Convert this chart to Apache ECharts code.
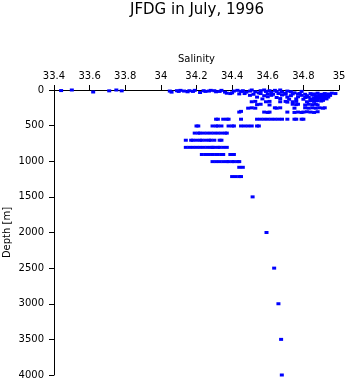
<!DOCTYPE html>
<html>
<head>
<meta charset="utf-8">
<script src="https://cdn.jsdelivr.net/npm/echarts@6/dist/echarts.min.js"></script>
<style>
  html, body { margin: 0; padding: 0; background: #fff; }
  #chart { width: 348px; height: 384px; }
</style>
</head>
<body>
<div id="chart"></div>
<script>
// Salinity [PSU] vs depth [m] samples, grouped by layer: [salinity, depth]
const surfaceLayer = [
  [33.44, 8], [33.50, 0], [33.62, 28], [33.71, 12], [33.75, 0], [33.78, 12],
  [34.05, 15], [34.06, 30], [34.09, 10], [34.10, 20], [34.11, 5], [34.13, 15],
  [34.15, 25], [34.16, 10], [34.18, 20], [34.19, 5], [34.22, 35], [34.24, 10],
  [34.25, 20], [34.27, 15], [34.28, 5], [34.30, 10], [34.31, 25], [34.33, 20],
  [34.34, 5], [34.36, 30], [34.37, 45], [34.39, 50], [34.40, 40], [34.41, 15],
  [34.43, 5], [34.45, 20], [34.46, 10], [34.48, 30], [34.50, 15], [34.51, 0],
  [34.53, 25], [34.55, 40], [34.56, 10], [34.58, 0], [34.59, 20], [34.61, 10],
  [34.62, 35], [34.64, 5], [34.65, 20], [34.67, 0], [34.68, 30], [34.70, 45],
  [34.71, 15], [34.73, 25], [34.75, 40], [34.77, 55], [34.79, 20]
];

const upperLayer = [
  [34.44, 55], [34.47, 50], [34.52, 60], [34.56, 50], [34.60, 55], [34.63, 60],
  [34.66, 50], [34.70, 60], [34.74, 55], [34.78, 50], [34.81, 60], [34.84, 50],
  [34.86, 55], [34.88, 45], [34.90, 60], [34.92, 50], [34.94, 55], [34.96, 45],
  [34.98, 50],
  [34.50, 75], [34.58, 80], [34.62, 75], [34.68, 70], [34.73, 80], [34.79, 75],
  [34.82, 80], [34.85, 70], [34.87, 80], [34.89, 75], [34.90, 85], [34.92, 70],
  [34.93, 80], [34.95, 75],
  [34.54, 100], [34.60, 95], [34.65, 105], [34.71, 100], [34.77, 95], [34.81, 105],
  [34.83, 100], [34.86, 110], [34.88, 95], [34.89, 105], [34.91, 100], [34.92, 110],
  [34.94, 100],
  [34.57, 125], [34.67, 120], [34.72, 130], [34.76, 125], [34.80, 130], [34.84, 125],
  [34.86, 130], [34.88, 120], [34.90, 125], [34.91, 135], [34.93, 125],
  [34.51, 165], [34.53, 160], [34.59, 165], [34.61, 160], [34.67, 165], [34.70, 160],
  [34.71, 170], [34.74, 165], [34.76, 160], [34.82, 165], [34.84, 150], [34.86, 160],
  [34.88, 150], [34.90, 155], [34.91, 145],
  [34.54, 205], [34.56, 200], [34.61, 210], [34.74, 200], [34.76, 205], [34.77, 200],
  [34.81, 210], [34.83, 200], [34.85, 205], [34.87, 200], [34.88, 210],
  [34.49, 255], [34.51, 250], [34.53, 255], [34.64, 250], [34.65, 255], [34.67, 250],
  [34.75, 255], [34.81, 250], [34.83, 255], [34.85, 250], [34.87, 255], [34.89, 250],
  [34.91, 255], [34.92, 250],
  [34.44, 310], [34.45, 300], [34.58, 310], [34.60, 315], [34.61, 310], [34.71, 310],
  [34.75, 315], [34.77, 310], [34.79, 315], [34.80, 310], [34.82, 305], [34.84, 310],
  [34.86, 315], [34.88, 305]
];

const intermediateLayer = [
  [34.31, 410], [34.32, 410], [34.35, 410], [34.37, 410], [34.38, 410], [34.45, 410],
  [34.54, 410], [34.56, 410], [34.58, 410], [34.60, 410], [34.62, 410], [34.64, 410],
  [34.66, 410], [34.68, 410], [34.71, 410], [34.75, 410], [34.76, 410],
  [34.79, 410], [34.80, 410],
  [34.20, 505], [34.21, 505], [34.29, 505], [34.31, 505], [34.32, 505], [34.34, 505],
  [34.38, 505], [34.40, 505], [34.41, 505], [34.45, 505], [34.47, 505], [34.49, 505],
  [34.51, 505], [34.54, 505], [34.55, 505],
  [34.19, 605], [34.21, 605], [34.22, 605], [34.24, 605], [34.26, 605], [34.28, 605],
  [34.30, 605], [34.32, 605], [34.34, 605], [34.36, 605], [34.37, 605],
  [34.14, 705], [34.17, 705], [34.18, 705], [34.20, 705], [34.22, 705], [34.23, 705],
  [34.25, 705], [34.27, 705], [34.28, 705], [34.30, 705], [34.33, 705], [34.34, 705],
  [34.14, 805], [34.16, 805], [34.18, 805], [34.20, 805], [34.22, 805], [34.24, 805],
  [34.26, 805], [34.28, 805], [34.29, 805], [34.30, 805], [34.32, 805],
  [34.33, 805], [34.35, 805], [34.37, 805],
  [34.23, 905], [34.25, 905], [34.27, 905], [34.29, 905], [34.31, 905], [34.32, 905],
  [34.34, 905], [34.35, 905], [34.39, 905], [34.41, 905],
  [34.29, 1005], [34.31, 1005], [34.33, 1005], [34.35, 1005], [34.37, 1005], [34.38, 1005],
  [34.40, 1005], [34.41, 1005], [34.43, 1005], [34.44, 1005],
  [34.44, 1085], [34.46, 1085],
  [34.40, 1215], [34.42, 1215], [34.44, 1215], [34.45, 1215]
];

const deepLayer = [
  [34.515, 1500], [34.593, 2000], [34.636, 2500], [34.660, 3000], [34.675, 3500], [34.679, 4000]
];

const salinityTicks = { min: 33.4, max: 35, step: 0.2 };
const depthTicks = { min: 0, max: 4000, step: 500 };

const FONT = 'DejaVu Sans';
const chart = echarts.init(document.getElementById('chart'), null, { renderer: 'canvas' });

chart.setOption({
  animation: false,
  backgroundColor: '#ffffff',
  title: {
    text: 'JFDG in July, 1996',
    left: 130,
    top: 3,
    padding: 0,
    textStyle: { fontFamily: FONT, fontSize: 15, fontWeight: 'normal', color: '#000' }
  },
  grid: {
    left: 54, right: 9, top: 90, bottom: 9,
    containLabel: false,
    outerBoundsMode: 'none'
  },
  xAxis: {
    type: 'value',
    position: 'top',
    min: salinityTicks.min,
    max: salinityTicks.max,
    interval: salinityTicks.step,
    name: 'Salinity',
    nameLocation: 'middle',
    nameGap: 26,
    nameTextStyle: { fontFamily: FONT, fontSize: 10, color: '#000' },
    axisLine: { show: true, onZero: false, lineStyle: { color: '#000', width: 1 } },
    axisTick: { show: true, inside: false, length: 5, lineStyle: { color: '#000' } },
    axisLabel: { margin: 9, fontFamily: FONT, fontSize: 10, color: '#000' },
    splitLine: { show: false }
  },
  yAxis: {
    type: 'value',
    inverse: true,
    min: depthTicks.min,
    max: depthTicks.max,
    interval: depthTicks.step,
    name: 'Depth [m]',
    nameLocation: 'middle',
    nameGap: 42,
    nameMoveOverlap: false,
    nameRotate: 90,
    nameTextStyle: { fontFamily: FONT, fontSize: 10, color: '#000' },
    axisLine: { show: true, onZero: false, lineStyle: { color: '#000', width: 1 } },
    axisTick: { show: true, inside: false, length: 5, lineStyle: { color: '#000' } },
    axisLabel: {
      margin: 10, fontFamily: FONT, fontSize: 10, color: '#000',
      formatter: (v) => String(v)
    },
    splitLine: { show: false }
  },
  series: [
    {
      type: 'scatter',
      data: surfaceLayer.concat(upperLayer, intermediateLayer, deepLayer),
      symbol: 'rect',
      symbolSize: [4, 3],
      itemStyle: { color: '#0000ff', opacity: 1 },
      silent: true
    }
  ]
});
</script>
</body>
</html>
